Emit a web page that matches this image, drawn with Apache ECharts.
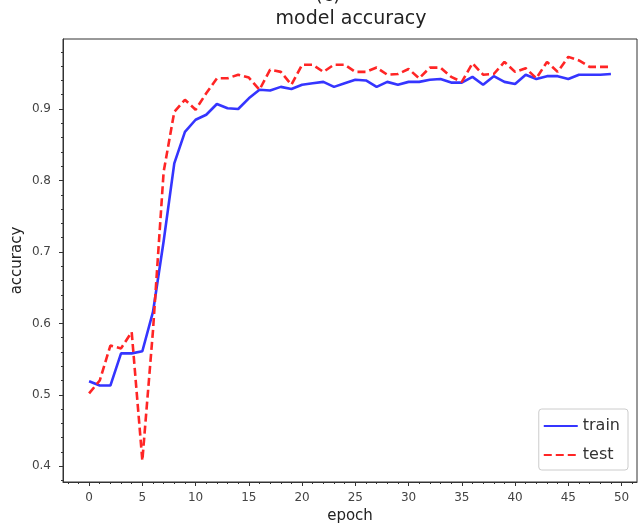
<!DOCTYPE html>
<html>
<head>
<meta charset="utf-8">
<script src="https://cdn.jsdelivr.net/npm/echarts@6/dist/echarts.min.js"></script>
<style>
html,body{margin:0;padding:0;background:#fff;}
#chart{width:640px;height:526px;}
</style>
</head>
<body>
<div id="chart"></div>
<script>
const epochs = [0,1,2,3,4,5,6,7,8,9,10,11,12,13,14,15,16,17,18,19,20,21,22,23,24,25,26,27,28,29,30,31,32,33,34,35,36,37,38,39,40,41,42,43,44,45,46,47,48,49];
const trainAcc = [0.519,0.513,0.513,0.558,0.558,0.561,0.616,0.715,0.824,0.868,0.885,0.892,0.907,0.901,0.900,0.915,0.927,0.926,0.931,0.928,0.934,0.936,0.938,0.931,0.936,0.941,0.940,0.931,0.938,0.934,0.938,0.938,0.941,0.942,0.937,0.937,0.945,0.934,0.946,0.938,0.935,0.948,0.942,0.946,0.946,0.942,0.948,0.948,0.948,0.949];
const testAcc = [0.502,0.520,0.569,0.565,0.588,0.408,0.590,0.812,0.896,0.913,0.899,0.922,0.943,0.943,0.948,0.944,0.927,0.955,0.952,0.934,0.962,0.962,0.952,0.962,0.962,0.952,0.952,0.958,0.948,0.949,0.956,0.943,0.958,0.958,0.945,0.938,0.964,0.948,0.949,0.966,0.952,0.957,0.943,0.966,0.952,0.973,0.968,0.959,0.959,0.959];
const xTicks = [0,5,10,15,20,25,30,35,40,45,50];
const yTicks = [0.4,0.5,0.6,0.7,0.8,0.9];

const xMin = -2.45, xMax = 51.45, yMin = 0.378, yMax = 0.998;
const xMinor = [];
for (let i = -2; i <= 51; i++) xMinor.push(i);
const yMinor = [];
for (let i = 19; i <= 49; i++) yMinor.push(+(i * 0.02).toFixed(2));

const font = 'DejaVu Sans';
const axisCol = '#333';
const noSymbol = {color: 'rgba(0,0,0,0)', borderWidth: 0, opacity: 0};

const chart = echarts.init(document.getElementById('chart'), null, {renderer: 'canvas'});
chart.setOption({
  animation: false,
  backgroundColor: '#fff',
  textStyle: {fontFamily: font},
  graphic: [
    {type: 'text', x: 328, y: -4, style: {text: '(c)', align: 'center', verticalAlign: 'middle', fontSize: 19, fontFamily: font, fill: '#222'}},
    {type: 'text', x: 351, y: 19, style: {text: 'model accuracy', align: 'center', verticalAlign: 'middle', fontSize: 19, fontFamily: font, fill: '#222'}}
  ],
  grid: {left: 63, right: 3, top: 39, bottom: 44, show: true, borderColor: axisCol, borderWidth: 1, outerBoundsMode: 'none', containLabel: false},
  legend: {
    data: [
      {name: 'train', itemStyle: noSymbol},
      {name: 'test', itemStyle: noSymbol}
    ],
    orient: 'vertical', right: 12, bottom: 56,
    itemWidth: 34, itemHeight: 12, itemGap: 13,
    borderColor: '#ccc', borderWidth: 1, borderRadius: 3, padding: [9, 8, 7, 4],
    backgroundColor: '#fff',
    textStyle: {fontSize: 16, color: '#333', fontFamily: font}
  },
  xAxis: [
    {
      type: 'value', min: xMin, max: xMax, position: 'bottom',
      name: 'epoch', nameLocation: 'middle', nameGap: 27, nameMoveOverlap: false,
      nameTextStyle: {fontSize: 15, color: '#222', fontFamily: font},
      axisLine: {show: true, onZero: false, lineStyle: {color: axisCol}},
      axisTick: {show: true, customValues: xTicks, length: 4, lineStyle: {color: axisCol}},
      axisLabel: {customValues: xTicks, margin: 10, fontSize: 12, color: '#444', fontFamily: font},
      splitLine: {show: false}
    },
    {
      type: 'value', min: xMin, max: xMax, position: 'bottom', gridIndex: 0,
      axisLine: {show: false, onZero: false},
      axisTick: {show: true, customValues: xMinor, length: 2, lineStyle: {color: axisCol}},
      axisLabel: {show: false},
      splitLine: {show: false}
    }
  ],
  yAxis: [
    {
      type: 'value', min: yMin, max: yMax, position: 'left',
      name: 'accuracy', nameLocation: 'middle', nameGap: 38, nameMoveOverlap: false,
      nameTextStyle: {fontSize: 15, color: '#222', fontFamily: font},
      axisLine: {show: true, onZero: false, lineStyle: {color: axisCol}},
      axisTick: {show: true, customValues: yTicks, length: 4, lineStyle: {color: axisCol}},
      axisLabel: {customValues: yTicks, margin: 12, fontSize: 12, color: '#444', fontFamily: font, formatter: v => v.toFixed(1)},
      splitLine: {show: false}
    },
    {
      type: 'value', min: yMin, max: yMax, position: 'left', gridIndex: 0,
      axisLine: {show: false, onZero: false},
      axisTick: {show: true, customValues: yMinor, length: 2, lineStyle: {color: axisCol}},
      axisLabel: {show: false},
      splitLine: {show: false}
    }
  ],
  series: [
    {
      name: 'train', type: 'line', xAxisIndex: 0, yAxisIndex: 0,
      data: epochs.map((e, i) => [e, trainAcc[i]]),
      symbol: 'none', color: '#3535ff',
      lineStyle: {width: 2.6, color: '#3535ff'}, z: 2
    },
    {
      name: 'test', type: 'line', xAxisIndex: 0, yAxisIndex: 0,
      data: epochs.map((e, i) => [e, testAcc[i]]),
      symbol: 'none', color: '#ff2525',
      lineStyle: {width: 2.6, color: '#ff2525', type: [8, 4]}, z: 3
    }
  ]
});
</script>
</body>
</html>
